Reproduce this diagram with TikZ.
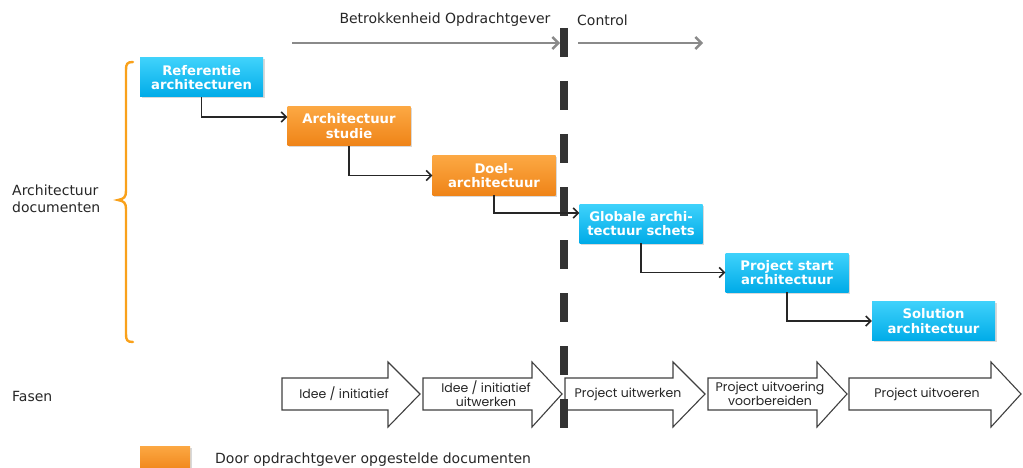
\documentclass[tikz,border=0pt]{standalone}
\usepackage{fontspec}
\setmainfont{DejaVu Sans}
\newfontfamily\phasefont{Poppins}
\usetikzlibrary{arrows.meta,shadows,calc}

\definecolor{bluetop}{HTML}{3FD2FB}
\definecolor{bluebot}{HTML}{00ABE8}
\definecolor{orangetop}{HTML}{FCA843}
\definecolor{orangebot}{HTML}{EF8418}
\definecolor{braceorange}{HTML}{F9A11B}
\definecolor{headgray}{HTML}{8A8A8A}
\definecolor{cutgray}{HTML}{333333}
\definecolor{inkgray}{HTML}{262626}
\definecolor{phaseline}{HTML}{404040}

\tikzset{
  doc/.style={minimum width=123pt, minimum height=39pt, inner sep=0pt,
    align=center, text=white,
    font=\bfseries\fontsize{13.2}{14.5}\selectfont,
    drop shadow={shadow xshift=1.5pt, shadow yshift=-1.5pt, opacity=0.3}},
  bluedoc/.style={doc, top color=bluetop, bottom color=bluebot},
  orangedoc/.style={doc, top color=orangetop, bottom color=orangebot},
  flow/.style={draw=inkgray, line width=1.5pt,
    -{Straight Barb[length=5pt,width=10pt,line width=1.5pt]}},
  headarrow/.style={draw=headgray, line width=2.4pt,
    -{Straight Barb[length=6pt,width=12pt,line width=2.4pt]}},
  label/.style={text=inkgray, font=\fontsize{14}{17}\selectfont, inner sep=0pt},
  phase/.style={draw=phaseline, fill=white, line width=1.1pt, line join=miter},
  phasetext/.style={text=inkgray, align=center, inner sep=0pt,
    font=\phasefont\fontsize{12.5}{14}\selectfont},
}

% one block arrow of the phase row: left edge, head base, tip
\newcommand\phasearrow[3]{%
  \draw[phase] (#1,378) -- (#2,378) -- (#2,362) -- (#3,394) -- (#2,427)
    -- (#2,410) -- (#1,410) -- cycle;}

\begin{document}
\begin{tikzpicture}[x=1pt, y=-1pt]
\useasboundingbox (0,0) rectangle (1023,468);

% header: involvement of the client, then control
\node[label, anchor=center] (betr) at (445,20) {Betrokkenheid Opdrachtgever};
\node[label, anchor=west] (ctrl) at (577,20) {Control};
\coordinate (h1s) at (292,43);
\coordinate (h1e) at (560,43);
\coordinate (h2s) at (578,43);
\coordinate (h2e) at (703,43);
\draw[headarrow] (h1s) -- (h1e);
\draw[headarrow] (h2s) -- (h2e);

% left labels and brace
\node[label, anchor=west, align=left] (archdoc) at (12,199) {Architectuur\\documenten};
\node[label, anchor=west] (fasen) at (12,396) {Fasen};
\draw[braceorange, line width=2.4pt, line cap=round]
  (133,62) .. controls (127,62) and (126,64) .. (126,70) -- (126,191)
  .. controls (126,197) and (124,199) .. (118,200)
  .. controls (124,201) and (126,203) .. (126,209) -- (126,334)
  .. controls (126,340) and (127,342) .. (133,342);

% phase row
\phasearrow{282}{388}{420}
\phasearrow{423}{532}{562}
\phasearrow{565}{673}{705}
\phasearrow{708}{817}{847}
\phasearrow{849}{991}{1021}
\node[phasetext] (p1) at (344,394) {Idee / initiatief};
\node[phasetext] (p2) at (486,394) {Idee / initiatief\\uitwerken};
\node[phasetext] (p3) at (628,394) {Project uitwerken};
\node[phasetext] (p4) at (770,394) {Project uitvoering\\voorbereiden};
\node[phasetext] (p5) at (927,394) {Project uitvoeren};

% boundary between involvement and control
\coordinate (cuttop) at (564,28);
\coordinate (cutbot) at (564,432);
\draw[cutgray, line width=8pt, dash pattern=on 29pt off 24pt] (cuttop) -- (cutbot);

% architecture documents
\node[bluedoc]   (ref)   at (201.5,77.5) {Referentie\\architecturen};
\node[orangedoc] (stud)  at (349,126)    {Architectuur\\studie};
\node[orangedoc] (doel)  at (494,175.5)  {Doel-\\architectuur};
\node[bluedoc]   (glob)  at (641,223.5)  {Globale archi-\\tectuur schets};
\node[bluedoc]   (start) at (787,272.5)  {Project start\\architectuur};
\node[bluedoc]   (sol)   at (933.5,321)  {Solution\\architectuur};

\draw[flow] (ref.south)   |- ([yshift=9pt]stud.west);
\draw[flow] (stud.south)  |- (doel.west);
\draw[flow] (doel.south)  |- ([yshift=10.5pt]glob.west);
\draw[flow] (glob.south)  |- (start.west);
\draw[flow] (start.south) |- (sol.west);

% legend
\node[orangedoc, minimum width=50pt, minimum height=26pt] (key) at (165,459) {};
\node[label, anchor=west] (keytext) at (215,460) {Door opdrachtgever opgestelde documenten};
\end{tikzpicture}
\end{document}
